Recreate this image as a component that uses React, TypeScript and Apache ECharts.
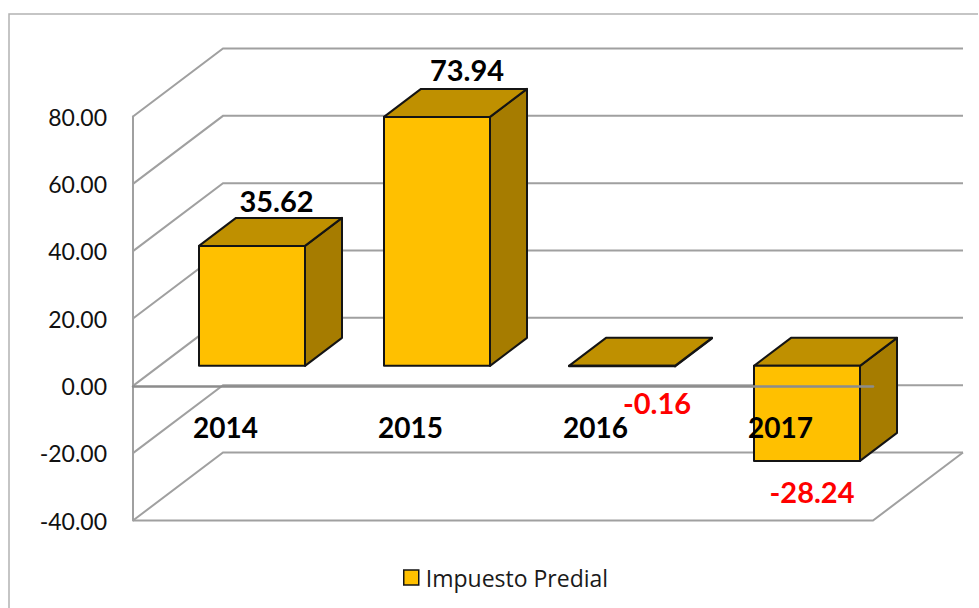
import React, { useEffect, useRef } from "react";
import * as echarts from "echarts";

const years = ["2014", "2015", "2016", "2017"];
const predial = [35.62, 73.94, -0.16, -28.24];
const wallTicks = [80, 60, 40, 20, 0, -20, -40];
const seriesName = "Impuesto Predial";

// Layout of the drawn perspective, in pixels
const WALL_DX = 90;
const WALL_DY = 68;
const BAR_SHIFT_X = 26.5;
const BAR_SHIFT_Y = 20;
const BAR_HALF = 53;
const BAR_DX = 37;
const BAR_DY = 28;
const LABEL_NUDGE = [
  { dx: 24.5, dy: -45 },
  { dx: 30, dy: -47 },
  { dx: 35, dy: 36 },
  { dx: 5, dy: 31 },
];
const FONT = "Lato, 'Open Sans', sans-serif";

const GRID_COLOR = "#a0a0a0";

function renderWall(params: any, api: any) {
  const cs = params.coordSys;
  const v = api.value(0);
  const y = api.coord([0, v])[1];
  const x0 = cs.x;
  const x1 = cs.x + cs.width;
  const style = { stroke: GRID_COLOR, lineWidth: 2, fill: "none" };
  const children: any[] = [
    {
      type: "polyline",
      shape: {
        points: [
          [x0, y],
          [x0 + WALL_DX, y - WALL_DY],
          [x1 + WALL_DX, y - WALL_DY],
        ],
      },
      style,
    },
  ];
  if (params.dataIndex === wallTicks.length - 1) {
    children.push({
      type: "polyline",
      shape: {
        points: [
          [x0, y],
          [x1, y],
          [x1 + WALL_DX, y - WALL_DY],
        ],
      },
      style,
    });
  }
  return { type: "group", children };
}

function renderBar(params: any, api: any) {
  const i = api.value(0);
  const v = api.value(1);
  const zero = api.coord([i, 0]);
  const end = api.coord([i, v]);
  const xl = zero[0] + BAR_SHIFT_X - BAR_HALF;
  const xr = zero[0] + BAR_SHIFT_X + BAR_HALF;
  const yA = zero[1] - BAR_SHIFT_Y;
  const yB = end[1] - BAR_SHIFT_Y;
  const top = Math.min(yA, yB);
  const bottom = Math.max(yA, yB);
  const border = { stroke: "#141414", lineWidth: 2, lineJoin: "round" };
  const nudge = LABEL_NUDGE[i];
  return {
    type: "group",
    children: [
      {
        type: "polygon",
        shape: {
          points: [
            [xr, top],
            [xr + BAR_DX, top - BAR_DY],
            [xr + BAR_DX, bottom - BAR_DY],
            [xr, bottom],
          ],
        },
        style: { fill: "#A67C00", ...border },
      },
      {
        type: "polygon",
        shape: {
          points: [
            [xl, top],
            [xl + BAR_DX, top - BAR_DY],
            [xr + BAR_DX, top - BAR_DY],
            [xr, top],
          ],
        },
        style: { fill: "#BF9000", ...border },
      },
      {
        type: "polygon",
        shape: {
          points: [
            [xl, top],
            [xr, top],
            [xr, bottom],
            [xl, bottom],
          ],
        },
        style: { fill: "#FFC000", ...border },
      },
      {
        type: "text",
        x: (xl + xr) / 2 + nudge.dx,
        y: (v >= 0 ? top : bottom) + nudge.dy,
        style: {
          text: v.toFixed(2),
          fill: v < 0 ? "#FF0000" : "#000000",
          font: `bold 29px ${FONT}`,
          align: "center",
          verticalAlign: "middle",
        },
      },
    ],
  };
}

export default function App() {
  const ref = useRef<HTMLDivElement>(null);

  useEffect(() => {
    const chart = echarts.init(ref.current!, null, { renderer: "svg" });
    chart.setOption({
      animation: false,
      backgroundColor: "#ffffff",
      graphic: [
        {
          type: "polyline",
          shape: {
            points: [
              [9, 608],
              [9, 14],
              [978, 14],
            ],
          },
          style: { stroke: "#b2b2b2", lineWidth: 1.5, fill: "none" },
        },
      ],
      grid: { left: 133, top: 116.5, width: 740, height: 404 },
      legend: {
        left: 398,
        top: 561,
        icon: "rect",
        itemWidth: 15,
        itemHeight: 15,
        itemGap: 6,
        data: [seriesName],
        selectedMode: false,
        itemStyle: { borderColor: "#141414", borderWidth: 1.5 },
        textStyle: { fontFamily: "'Open Sans', sans-serif", fontSize: 23, color: "#1a1a1a", padding: [0, 0, 0, 2] },
      },
      xAxis: {
        type: "category",
        data: years,
        z: 10,
        axisLine: { onZero: true, lineStyle: { color: "#8c8c8c", width: 2.5 } },
        axisTick: { show: false },
        axisLabel: {
          margin: -108,
          fontFamily: FONT,
          fontSize: 28,
          fontWeight: "bold",
          color: "#000000",
        },
        splitLine: { show: false },
      },
      yAxis: {
        type: "value",
        min: -40,
        max: 80,
        interval: 20,
        axisLine: { show: true, lineStyle: { color: GRID_COLOR, width: 2 } },
        axisTick: { show: false },
        splitLine: { show: false },
        axisLabel: {
          margin: 26,
          fontFamily: FONT,
          fontSize: 23,
          color: "#111111",
          formatter: (v: number) => v.toFixed(2),
        },
      },
      series: [
        {
          type: "custom",
          name: "walls",
          z: 1,
          silent: true,
          clip: false,
          coordinateSystem: "cartesian2d",
          encode: { y: 0 },
          data: wallTicks.map((t) => [t]),
          renderItem: renderWall,
        },
        {
          type: "custom",
          name: seriesName,
          z: 2,
          clip: false,
          coordinateSystem: "cartesian2d",
          itemStyle: { color: "#FFC000" },
          encode: { x: 0, y: 1 },
          data: predial.map((v, i) => [i, v]),
          renderItem: renderBar,
        },
      ],
    });
    return () => chart.dispose();
  }, []);

  return (
    <div
      ref={ref}
      style={{ position: "fixed", left: 0, top: 0, width: 979, height: 608 }}
    />
  );
}
